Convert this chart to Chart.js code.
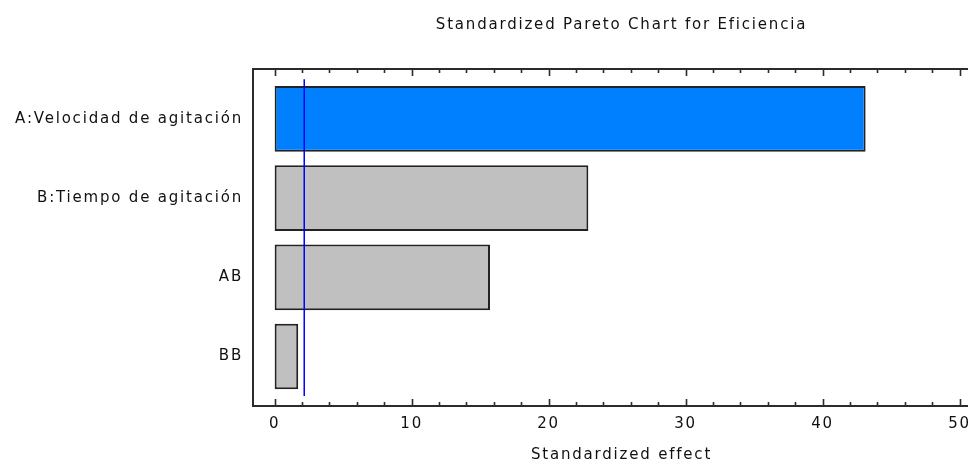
<!DOCTYPE html>
<html>
<head>
<meta charset="utf-8">
<title>Standardized Pareto Chart for Eficiencia</title>
<script src="https://cdn.jsdelivr.net/npm/chart.js@4/dist/chart.umd.min.js"></script>
<style>
  html, body { margin: 0; padding: 0; background: #ffffff; overflow: hidden; }
  #wrap { position: relative; width: 1000px; height: 466px; }
  canvas { display: block; }
</style>
</head>
<body>
<div id="wrap"><canvas id="pareto" width="1000" height="466"></canvas></div>
<script>
// Effects, in the order they are listed on the vertical axis
const factors = ['A:Velocidad de agitación', 'B:Tiempo de agitación', 'AB', 'BB'];
const standardizedEffects = [43.14, 22.9, 15.72, 1.72];
const barColors = ['#0080ff', '#c0c0c0', '#c0c0c0', '#c0c0c0'];
// Critical value of the standardized effect (vertical reference line)
const criticalValue = 2.16;
const xTickValues = [0, 10, 20, 30, 40, 50];
const xMinorStep = 2;

const TEXT_FONT = 'DejaVu Sans';
const TEXT_SIZE = 15;
const TEXT_COLOR = '#111111';
const FRAME_COLOR = '#2b2b2b';
const LETTER_SPACING = '1.8px';

// Wider letter spacing for every piece of canvas text
const spacingPlugin = {
  id: 'spacing',
  beforeUpdate(chart) { chart.ctx.letterSpacing = LETTER_SPACING; },
  beforeLayout(chart) { chart.ctx.letterSpacing = LETTER_SPACING; },
  beforeDraw(chart) { chart.ctx.letterSpacing = LETTER_SPACING; }
};

// Box around the plot with inward tick marks on the top and bottom edges
const framePlugin = {
  id: 'frame',
  afterDatasetsDraw(chart) {
    const { ctx, chartArea: a, scales } = chart;
    const xs = scales.x;
    ctx.save();
    ctx.strokeStyle = FRAME_COLOR;
    ctx.lineWidth = 2;
    ctx.strokeRect(a.left, a.top, a.right - a.left, a.bottom - a.top);
    ctx.lineWidth = 1.6;
    ctx.beginPath();
    for (let v = 0; v <= xs.max; v += xMinorStep) {
      const px = Math.round(xs.getPixelForValue(v)) + 0.5;
      const len = (v % 10 === 0) ? 7 : 4;
      ctx.moveTo(px, a.bottom);
      ctx.lineTo(px, a.bottom - len);
      ctx.moveTo(px, a.top);
      ctx.lineTo(px, a.top + len);
    }
    ctx.stroke();
    ctx.restore();
  }
};

const barData = factors.map((name, i) => ({ y: i, x: standardizedEffects[i] }));
const lineData = [{ y: -0.5, x: criticalValue }, { y: 3.5, x: criticalValue }];

new Chart(document.getElementById('pareto'), {
  type: 'bar',
  data: {
    datasets: [
      {
        type: 'line',
        data: lineData,
        indexAxis: 'y',
        borderColor: '#0000ff',
        borderWidth: 1.5,
        pointRadius: 0,
        fill: false,
        order: -1
      },
      {
        type: 'bar',
        data: barData,
        backgroundColor: barColors,
        borderColor: '#222222',
        borderWidth: 2,
        borderSkipped: false,
        categoryPercentage: 1,
        barPercentage: 0.83,
        order: 1
      }
    ]
  },
  options: {
    indexAxis: 'y',
    responsive: false,
    animation: false,
    devicePixelRatio: 1,
    layout: { padding: { left: 0, right: 10, top: 0, bottom: 0 } },
    plugins: {
      legend: { display: false },
      tooltip: { enabled: false },
      title: {
        display: true,
        text: 'Standardized Pareto Chart for Eficiencia',
        color: TEXT_COLOR,
        fullSize: false,
        font: { family: TEXT_FONT, size: TEXT_SIZE, weight: 'normal' },
        padding: { top: 16, bottom: 35 }
      }
    },
    scales: {
      x: {
        type: 'linear',
        position: 'bottom',
        min: -1.58,
        max: 52.22,
        offset: false,
        grid: { display: false, drawTicks: false },
        border: { display: false },
        afterBuildTicks(scale) { scale.ticks = xTickValues.map(v => ({ value: v })); },
        afterFit(scale) { scale.height = 60; },
        ticks: {
          color: TEXT_COLOR,
          padding: 9,
          maxRotation: 0,
          font: { family: TEXT_FONT, size: TEXT_SIZE }
        },
        title: {
          display: true,
          text: 'Standardized effect',
          color: TEXT_COLOR,
          font: { family: TEXT_FONT, size: TEXT_SIZE },
          padding: { top: 0, bottom: 2 }
        }
      },
      y: {
        type: 'linear',
        position: 'left',
        reverse: true,
        offset: false,
        min: -0.63,
        max: 3.625,
        grid: { display: false, drawTicks: false },
        border: { display: false },
        afterBuildTicks(scale) { scale.ticks = factors.map((_, i) => ({ value: i })); },
        afterFit(scale) { scale.width = 253; },
        ticks: {
          color: TEXT_COLOR,
          padding: 10,
          font: { family: TEXT_FONT, size: TEXT_SIZE },
          callback: (value) => factors[value]
        }
      }
    }
  },
  plugins: [spacingPlugin, framePlugin]
});
</script>
</body>
</html>
